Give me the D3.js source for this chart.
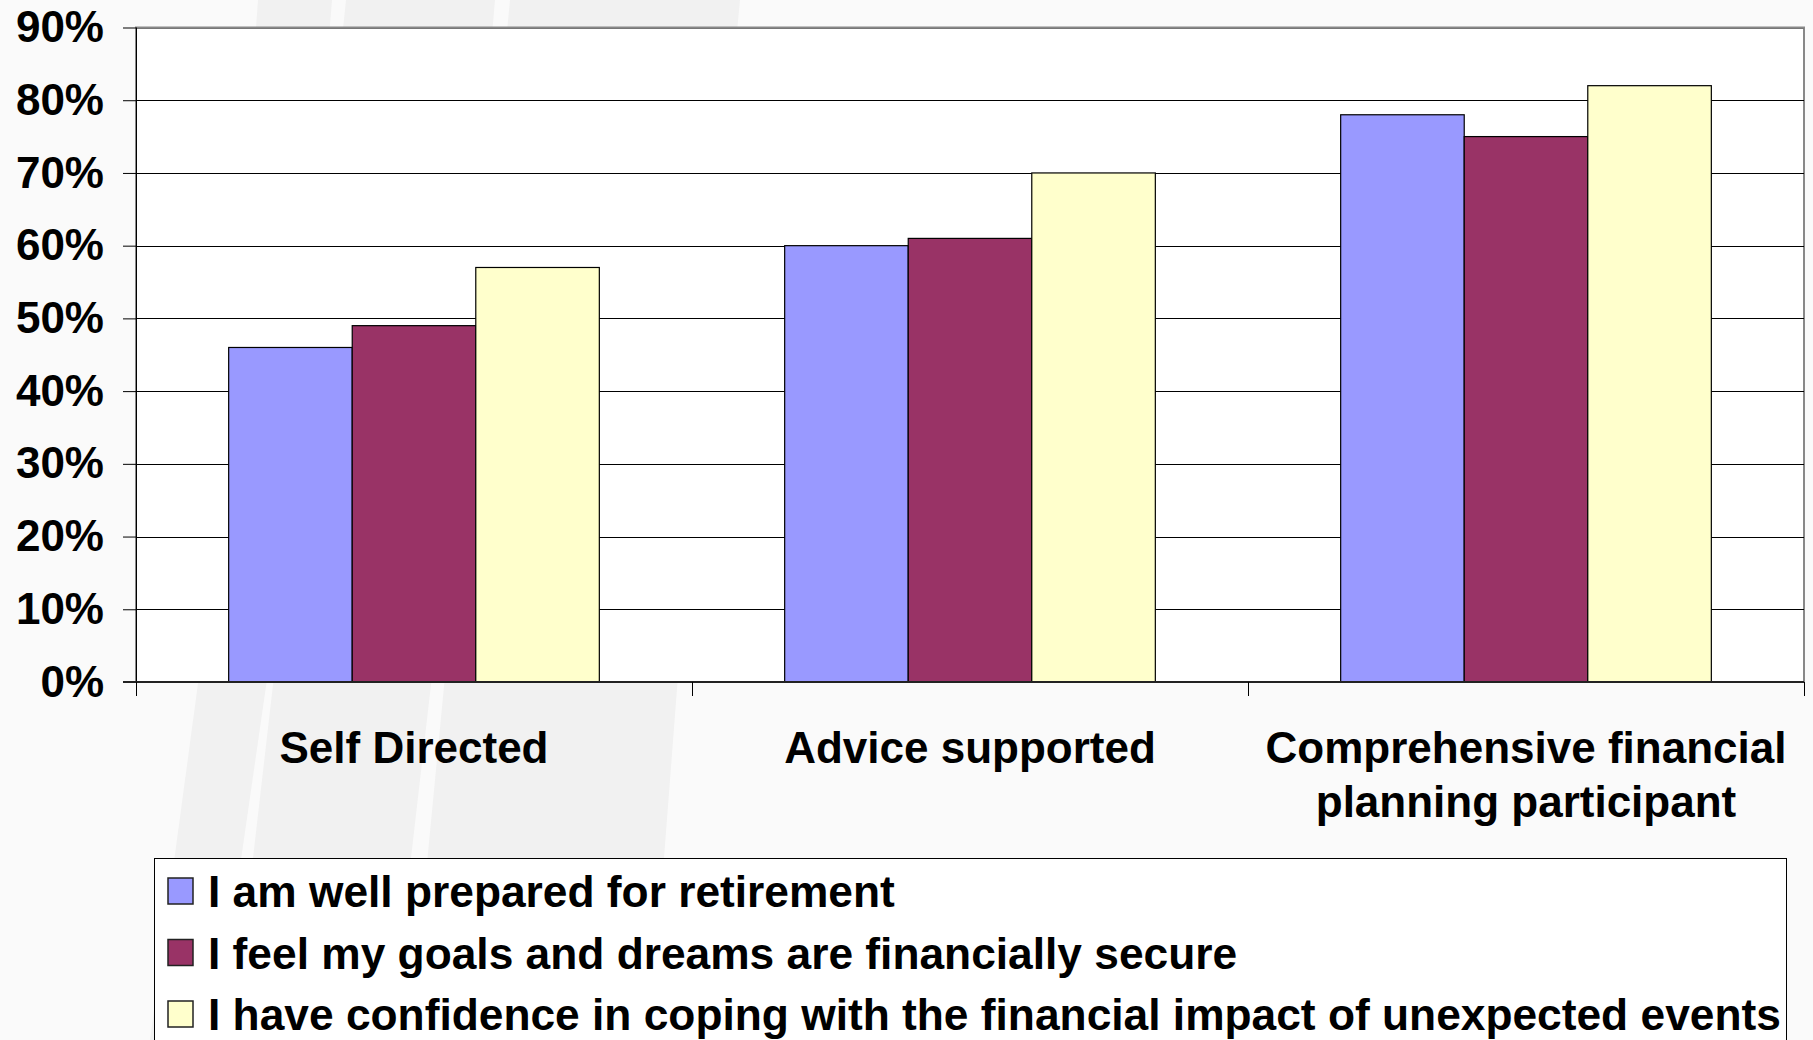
<!DOCTYPE html>
<html>
<head>
<meta charset="utf-8">
<script src="https://cdn.jsdelivr.net/npm/d3@7"></script>
<style>
  html, body { margin: 0; padding: 0; background: #fafafa; }
  svg { display: block; font-family: "Liberation Sans", Arial, sans-serif; font-weight: bold; }
</style>
</head>
<body>
<div id="chart"></div>
<script>
// Daten
const categories = [["Self Directed"], ["Advice supported"], ["Comprehensive financial", "planning participant"]];
const seriesNames = [
    "I am well prepared for retirement",
    "I feel my goals and dreams are financially secure",
    "I have confidence in coping with the financial impact of unexpected events"
];
const seriesColors = ["#9999ff", "#993366", "#ffffcc"];
const prepared = [0.46, 0.60, 0.78];
const secure = [0.49, 0.61, 0.75];
const confidence = [0.57, 0.70, 0.82];
const yTicks = [0, 0.1, 0.2, 0.3, 0.4, 0.5, 0.6, 0.7, 0.8, 0.9];

const width = 1813, height = 1040;
const margin = { top: 27.5, right: 9, bottom: 358, left: 136 };

const svg = d3.select("#chart")
    .append("svg")
    .attr("width", width)
    .attr("height", height);

// Hintergrund mit hellgrauen Streifen
const bg = svg.append("g");
bg.append("rect").attr("width", width).attr("height", height).attr("fill", "#fafafa");
const bands = [
    [[258, 0], [332, 0], [290, 520], [215, 1040], [150, 1040], [220, 520]],
    [[346, 0], [495, 0], [450, 520], [390, 1040], [232, 1040], [292, 520]],
    [[510, 0], [740, 0], [690, 520], [650, 1040], [410, 1040], [460, 520]]
];
bands.forEach(b => {
    bg.append("path")
        .attr("d", d3.line().curve(d3.curveLinearClosed)(b))
        .attr("fill", "#f1f1f1");
});

const x0 = d3.scaleBand()
    .domain(d3.range(categories.length))
    .range([margin.left, width - margin.right]);

// Excel-Standard: Abstand 150 % der Balkenbreite
const barW = x0.bandwidth() / 4.5;

const y = d3.scaleLinear()
    .domain([0, 0.9])
    .range([height - margin.bottom, margin.top]);

// Plotfläche
svg.append("rect")
    .attr("x", margin.left)
    .attr("y", margin.top)
    .attr("width", width - margin.right - margin.left)
    .attr("height", y(0) - margin.top)
    .attr("fill", "#ffffff")
    .attr("stroke", "#888")
    .attr("stroke-width", 2);

// Gitterlinien
svg.append("g")
    .selectAll("line")
    .data(yTicks.slice(1))
    .enter()
    .append("line")
    .attr("x1", margin.left)
    .attr("x2", width - margin.right)
    .attr("y1", d => Math.round(y(d)) + 0.5)
    .attr("y2", d => Math.round(y(d)) + 0.5)
    .attr("stroke", d => d === 0.9 ? "#777" : "#000")
    .attr("stroke-width", 1);

// Balken
const series = [prepared, secure, confidence];
series.forEach((vals, si) => {
    svg.append("g")
        .selectAll("rect")
        .data(vals)
        .enter()
        .append("rect")
        .attr("x", (d, i) => x0(i) + barW * (0.75 + si))
        .attr("y", d => y(d))
        .attr("width", barW)
        .attr("height", d => y(0) - y(d))
        .attr("fill", seriesColors[si])
        .attr("stroke", "#000")
        .attr("stroke-width", 1.2)
        .append("title")
        .text((d, i) => `${categories[i].join(" ")}: ${Math.round(d * 100)}%`);
});

// Y-Achse
const yAxis = g => g
    .attr("transform", `translate(${margin.left},0)`)
    .call(d3.axisLeft(y).tickValues(yTicks).tickFormat(d3.format(".0%")).tickSize(13).tickPadding(19))
    .call(g => g.selectAll("line, path").attr("stroke", "#000"))
    .call(g => g.select(".domain").attr("d", `M0.5,${y(0.9)}V${y(0)}`))
    .selectAll("text")
    .attr("font-family", "'Liberation Sans', Arial, sans-serif")
    .attr("font-weight", "bold")
    .attr("font-size", 44)
    .attr("fill", "#000");
svg.append("g").call(yAxis);

// X-Achse mit Teilstrichen an den Kategoriegrenzen
const xg = svg.append("g");
xg.append("line")
    .attr("x1", margin.left - 13)
    .attr("x2", width - margin.right)
    .attr("y1", y(0))
    .attr("y2", y(0))
    .attr("stroke", "#222")
    .attr("stroke-width", 2);
xg.selectAll("line.tick")
    .data(d3.range(categories.length + 1))
    .enter()
    .append("line")
    .attr("class", "tick")
    .attr("x1", i => (i < categories.length ? x0(i) : x0(i - 1) + x0.bandwidth()) + 0.5)
    .attr("x2", i => (i < categories.length ? x0(i) : x0(i - 1) + x0.bandwidth()) + 0.5)
    .attr("y1", y(0))
    .attr("y2", y(0) + 14)
    .attr("stroke", "#000");

xg.selectAll("text")
    .data(categories)
    .enter()
    .append("text")
    .attr("x", (d, i) => x0(i) + x0.bandwidth() / 2)
    .attr("y", y(0) + 81)
    .attr("text-anchor", "middle")
    .attr("font-size", 44)
    .each(function(d) {
        const t = d3.select(this);
        d.forEach((line, k) => {
            t.append("tspan")
                .attr("x", t.attr("x"))
                .attr("dy", k === 0 ? 0 : 54)
                .text(line);
        });
    });

// Legende
const legend = svg.append("g").attr("transform", "translate(154,858)");
legend.append("rect")
    .attr("x", 0.5)
    .attr("y", 0.5)
    .attr("width", 1632)
    .attr("height", 200)
    .attr("fill", "#ffffff")
    .attr("stroke", "#000");

const items = legend.selectAll("g.item")
    .data(seriesNames)
    .enter()
    .append("g")
    .attr("class", "item")
    .attr("transform", (d, i) => `translate(0,${33 + i * 61.5})`);

items.append("rect")
    .attr("x", 14)
    .attr("y", -13)
    .attr("width", 25)
    .attr("height", 26)
    .attr("fill", (d, i) => seriesColors[i])
    .attr("stroke", "#222")
    .attr("stroke-width", 1.5);

items.append("text")
    .attr("x", 54)
    .attr("y", 16)
    .attr("font-size", 44.3)
    .text(d => d);
</script>
</body>
</html>
